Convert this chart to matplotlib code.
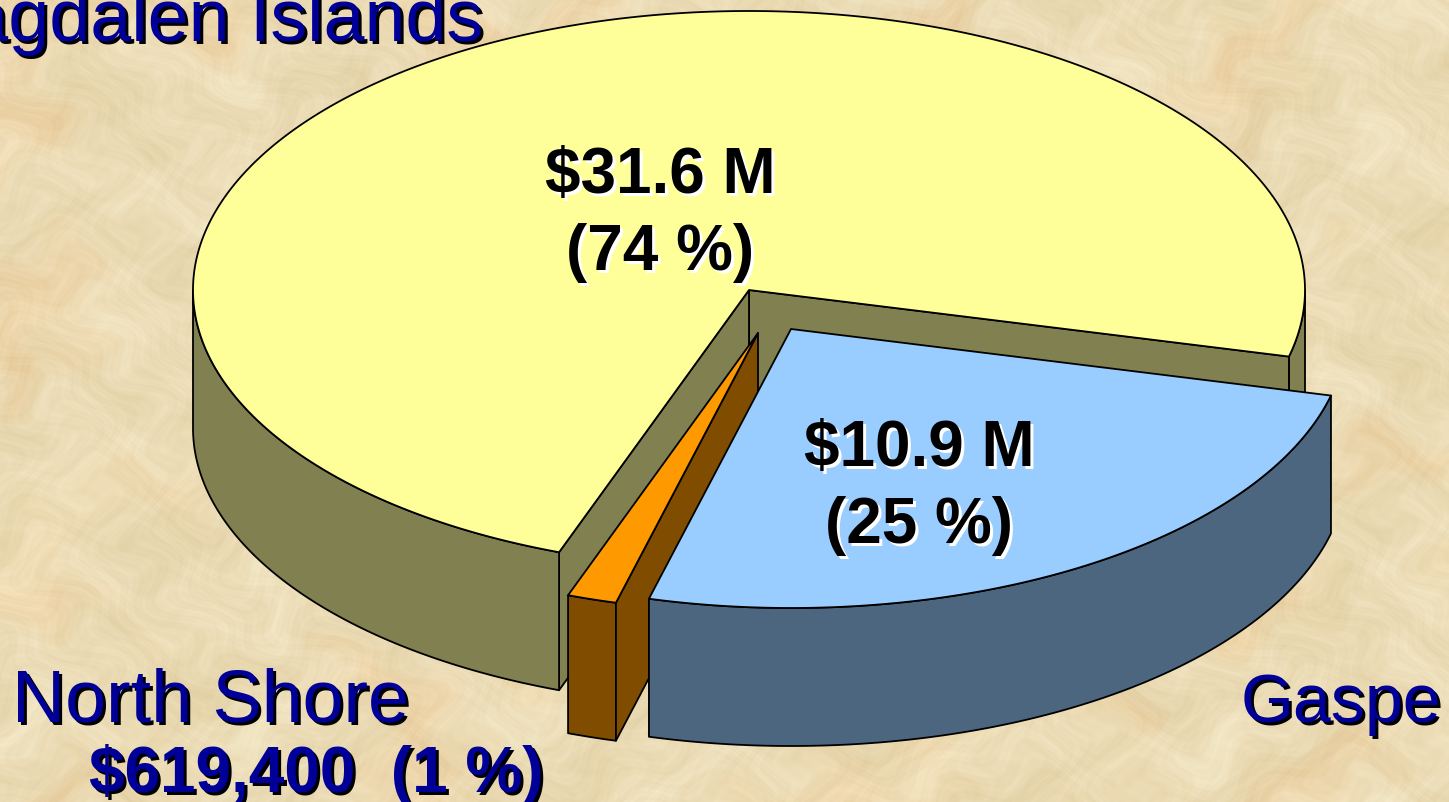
import matplotlib
matplotlib.use("Agg")
import matplotlib.pyplot as plt
from matplotlib.patches import Polygon
import numpy as np

# slices
regions = ["Magdalen Islands", "Gaspe", "North Shore"]
amounts = [31.6, 10.9, 0.6194]
amount_labels = ["$31.6 M\n(74 %)", "$10.9 M\n(25 %)", "$619,400  (1 %)"]
top_colors = ["#FFFF99", "#99CCFF", "#FF9900"]
side_colors = ["#808050", "#4D6680", "#804C00"]

W, H = 1449, 803
RX, RY = 556, 279
DEPTH = 138
START = 13.8

fig = plt.figure(frameon=False)
fig.set_size_inches(W / 100, H / 100)
ax = plt.Axes(fig, [0., 0., 1., 1.])
ax.set_axis_off()
fig.add_axes(ax)
ax.set_xlim(0, W)
ax.set_ylim(H, 0)

# parchment background, just warped waves, no data in here
yy, xx = np.mgrid[0:H, 0:W]
xw = xx + 38 * np.sin(yy / 43 + 1.1) + 19 * np.sin(yy / 13 + xx / 31)
yw = yy + 34 * np.sin(xx / 51 + 0.4) + 17 * np.sin(xx / 17 - yy / 27)
tex = (0.7 * np.sin(xw / 61 + yw / 37) * np.sin(yw / 53 - xw / 97)
       + 0.6 * np.sin(xw / 23 - yw / 41 + 1.3) * np.sin(yw / 19 + xw / 29)
       + 0.45 * np.sin(xw / 7.3 + yw / 11.1) * np.sin(yw / 5.7 - xw / 9.1)
       + 0.3 * np.sin(xw / 3.1 - yw / 2.3) * np.sin(yw / 3.7 + xw / 2.9))
warm = np.sin(xw / 131 + 2 * np.sin(yw / 71)) * np.sin(yw / 89 + 2 * np.sin(xw / 113))
warm = np.clip(warm, 0, 1) ** 2
bg = np.zeros((H, W, 3))
bg[..., 0] = 235 + 5 * tex + 2 * warm
bg[..., 1] = 220 + 7 * tex - 8 * warm
bg[..., 2] = 182 + 10 * tex - 14 * warm
ax.imshow(np.clip(bg, 0, 255).astype(np.uint8), extent=(0, W, H, 0), aspect="auto", zorder=0)
ax.set_xlim(0, W)
ax.set_ylim(H, 0)


def arc(cx, cy, a0, a1, n=200):
    t = np.radians(np.linspace(a0, a1, n))
    return np.column_stack([cx + RX * np.cos(t), cy + RY * np.sin(t)])


def face(points, color, z):
    ax.add_patch(Polygon(points, closed=True, facecolor=color, edgecolor="black",
                         linewidth=1.3, joinstyle="round", zorder=z))


def wall(cx, cy, a0, a1, color, z):
    top = arc(cx, cy, a0, a1)
    face(np.vstack([top, (top + [0, DEPTH])[::-1]]), color, z)


def flat(p, q, color, z):
    p = np.array(p, float)
    q = np.array(q, float)
    face([p, q, q + [0, DEPTH], p + [0, DEPTH]], color, z)


def label(x, y, s, size, color, shadow, off, family, weight="normal", ha="center", va="baseline", sp=1.0):
    ax.text(x + off, y + off, s, fontsize=size, color=shadow, family=family, weight=weight,
            ha=ha, va=va, linespacing=sp, zorder=10)
    ax.text(x, y, s, fontsize=size, color=color, family=family, weight=weight,
            ha=ha, va=va, linespacing=sp, zorder=11)


total = sum(amounts)
sweep = [a / total * 360 for a in amounts]

# slice angles go clockwise on screen: Gaspe, then North Shore, then the big one
g0, g1 = START, START + sweep[1]
n0, n1 = g1, g1 + sweep[2]
m0, m1 = n1, START + 360

# Magdalen Islands
cx, cy = 749, 291
e0 = arc(cx, cy, m1, m1, 1)[0]
e1 = arc(cx, cy, m0, m0, 1)[0]
wall(cx, cy, 0, START, side_colors[0], 1)
flat((cx, cy), e0, side_colors[0], 1)
flat((cx, cy), e1, side_colors[0], 1)
wall(cx, cy, m0, 180, side_colors[0], 1)
face(np.vstack([[cx, cy], arc(cx, cy, m0, m1, 500)]), top_colors[0], 2)

# North Shore
cx, cy = 758, 334
wall(cx, cy, n0, n1, side_colors[2], 3)
flat((cx, cy), arc(cx, cy, n0, n0, 1)[0], side_colors[2], 3)
face(np.vstack([[cx, cy], arc(cx, cy, n0, n1, 30)]), top_colors[2], 4)

# Gaspe
cx, cy = 791, 330
wall(cx, cy, g0, g1, side_colors[1], 5)
face(np.vstack([[cx, cy], arc(cx, cy, g0, g1, 200)]), top_colors[1], 6)

arial = ["Liberation Sans", "DejaVu Sans"]
navy = "#000099"

label(483, 41, regions[0], 53, navy, "black", 3, arial, ha="right")
label(12, 722, regions[2], 53, navy, "black", 3, arial, ha="left")
label(1441, 722, regions[1], 49, navy, "black", 3, arial, ha="right")
label(316, 792, amount_labels[2], 46, navy, "black", 3, arial, weight="bold")
label(660, 270, amount_labels[0], 46, "black", "white", 3, arial, weight="bold", sp=1.36)
label(919, 543, amount_labels[1], 46, "black", "white", 3, arial, weight="bold", sp=1.36)

plt.savefig("out.png", dpi=100)
plt.close(fig)
